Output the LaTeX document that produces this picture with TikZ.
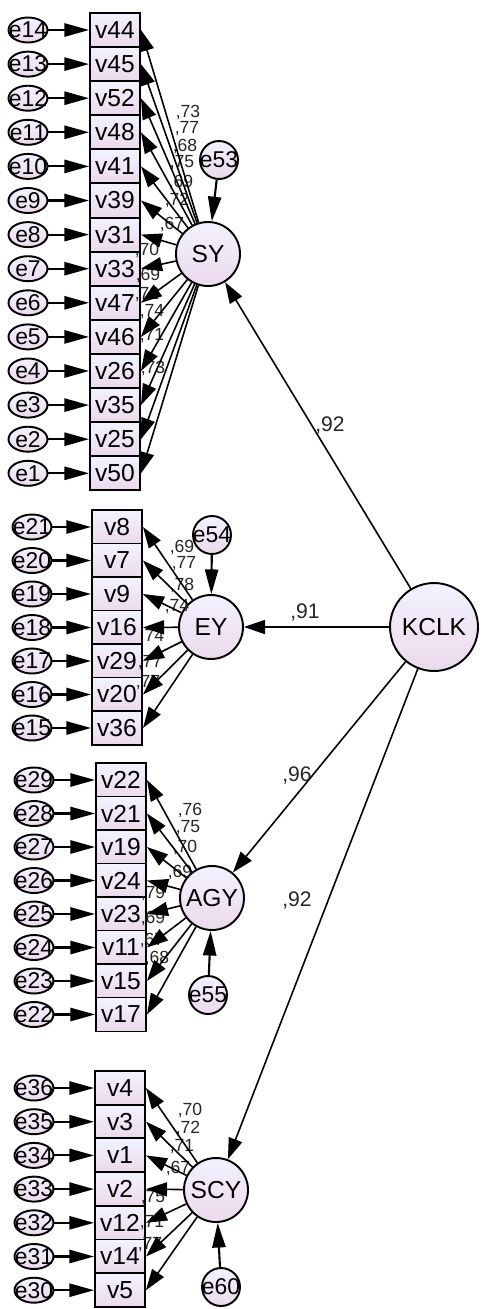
\documentclass[tikz,border=0pt]{standalone}
\usepackage{fontspec}
\setmainfont{Liberation Sans}
\usetikzlibrary{arrows.meta,shapes.geometric}

\begin{document}
\begin{tikzpicture}[x=0.02cm,y=-0.02cm, every node/.style={font=\fontsize{14}{16}\selectfont},
  obs/.style={draw,line width=1.1pt,top color=blue!5,bottom color=violet!15,minimum width=1cm,minimum height=0.68cm,inner sep=0pt},
  err/.style={draw,ellipse,line width=1.1pt,top color=blue!5,bottom color=violet!15,minimum width=0.78cm,minimum height=0.5cm,inner sep=0pt},
  res/.style={draw,circle,line width=1.1pt,top color=blue!5,bottom color=violet!15,minimum size=0.76cm,inner sep=0pt},
  lat/.style={draw,circle,line width=1.1pt,top color=blue!5,bottom color=violet!15,minimum size=1.28cm,inner sep=0pt},
  etxt/.style={font=\fontsize{13}{14}\selectfont},
  errarr/.style={-{Triangle[length=14pt,width=7.5pt]},line width=1.2pt},
  load/.style={-{Triangle[length=12pt,width=8pt]},line width=0.9pt},
  lbl/.style={font=\fontsize{10}{11}\selectfont,inner sep=0pt,text=black!85},
  glbl/.style={font=\fontsize{12}{13}\selectfont,inner sep=0pt,text=black!85}]
\useasboundingbox (0,0) rectangle (481,1309);

% SY indicators
\foreach \v [count=\i from 0] in {44,45,52,48,41,39,31,33,47,46,26,35,25,50} {
  \pgfmathtruncatemacro\e{14-\i}
  \node[obs] (v\v) at (115,30+34.1*\i) {v\v};
  \node[err,label={[etxt]center:e\e}] (e\e) at (28,30+34.1*\i) {};
  \draw[errarr] (e\e) -- (v\v);
}
% EY indicators
\foreach \v [count=\i from 0] in {8,7,9,16,29,20,36} {
  \pgfmathtruncatemacro\e{21-\i}
  \node[obs] (v\v) at (117,527+33.5*\i) {v\v};
  \node[err,label={[etxt]center:e\e}] (e\e) at (32,527+33.5*\i) {};
  \draw[errarr] (e\e) -- (v\v);
}
% AGY indicators
\foreach \v [count=\i from 0] in {22,21,19,24,23,11,15,17} {
  \pgfmathtruncatemacro\e{29-\i}
  \node[obs] (v\v) at (121,780+33.5*\i) {v\v};
  \node[err,label={[etxt]center:e\e}] (e\e) at (34,780+33.5*\i) {};
  \draw[errarr] (e\e) -- (v\v);
}
% SCY indicators
\foreach \v [count=\i from 0] in {4,3,1,2,12,14,5} {
  \pgfmathtruncatemacro\e{36-\i}
  \node[obs] (v\v) at (120,1088+33.7*\i) {v\v};
  \node[err,label={[etxt]center:e\e}] (e\e) at (34,1088+33.7*\i) {};
  \draw[errarr] (e\e) -- (v\v);
}

% latent factors
\node[lat] (SY) at (208,254) {SY};
\node[lat] (EY) at (211,627) {EY};
\node[lat] (AGY) at (212,898) {AGY};
\node[lat] (SCY) at (216,1190) {SCY};
\node[lat,minimum size=1.76cm] (KCLK) at (434,627) {KCLK};
\node[res,label={[etxt]center:e53}] (e53) at (219,160) {};
\node[res,label={[etxt]center:e54}] (e54) at (212,535) {};
\node[res,label={[etxt]center:e55}] (e55) at (208,995) {};
\node[res,label={[etxt]center:e60}] (e60) at (221,1287) {};

% loadings
\foreach \t/\x/\y [count=\k] in {73/188/112,77/187/129,68/185/146,75/182/163,69/181/182,72/177/200,67/172/224,70/147/250,69/148/275,72/147/294,74/152/312,71/152/336,73/153/368}
  \node[lbl] (sy\k) at (\x,\y) {,\t};
\foreach \t/\x/\y [count=\k] in {69/182/547,77/184/564,78/182/585,74/177/607,74/152/637,77/150/663,77/148/683}
  \node[lbl] (ey\k) at (\x,\y) {,\t};
\foreach \t/\x/\y [count=\k] in {76/190/810,75/188/828,70/185/847,69/180/872,79/153/893,69/153/918,67/152/940,68/157/958}
  \node[lbl] (agy\k) at (\x,\y) {,\t};
\foreach \t/\x/\y [count=\k] in {70/190/1110,72/188/1128,71/182/1147,67/178/1168,75/153/1198,71/152/1223,77/150/1245}
  \node[lbl] (scy\k) at (\x,\y) {,\t};

\foreach \v in {44,45,52,48,41,39,31,33,47,46,26,35,25,50} \draw[load] (SY) -- (v\v.east);
\foreach \v in {8,7,9,16,29,20,36} \draw[load] (EY) -- (v\v.east);
\foreach \v in {22,21,19,24,23,11,15,17} \draw[load] (AGY) -- (v\v.east);
\foreach \v in {4,3,1,2,12,14,5} \draw[load] (SCY) -- (v\v.east);

% residuals
\draw[errarr] (e53) -- (SY);
\draw[errarr] (e54) -- (EY);
\draw[errarr] (e55) -- (AGY);
\draw[errarr] (e60) -- (SCY);

% second order
\draw[load] (KCLK) -- (SY);
\draw[load] (KCLK) -- (EY);
\draw[load] (KCLK) -- (AGY);
\draw[load] (KCLK) -- (SCY);
\node[glbl] (g1) at (330,425) {,92};
\node[glbl] (g2) at (305,612) {,91};
\node[glbl] (g3) at (297,775) {,96};
\node[glbl] (g4) at (297,900) {,92};
\end{tikzpicture}
\end{document}
